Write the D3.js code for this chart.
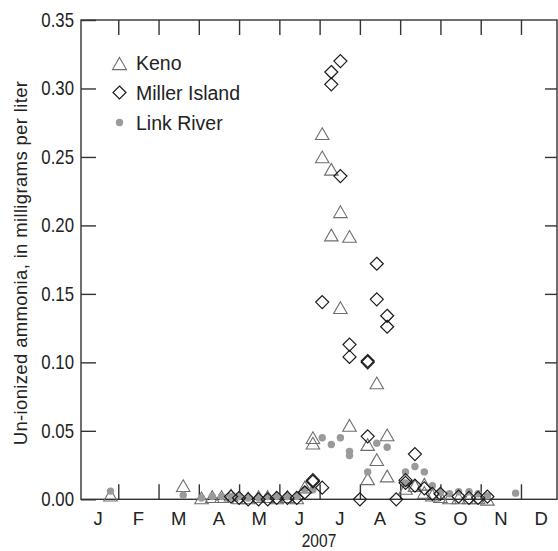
<!DOCTYPE html>
<html><head><meta charset="utf-8">
<script src="https://cdn.jsdelivr.net/npm/d3@7"></script>
<style>
body{margin:0;background:#fff;}
text{font-family:"Liberation Sans",Arial,sans-serif;fill:#222;}
</style></head>
<body><svg id="chart" width="558" height="551"></svg>
<script>
const monthLabels = ["J","F","M","A","M","J","J","A","S","O","N","D"];
const yTicks = [0,0.05,0.10,0.15,0.20,0.25,0.30,0.35];
const seriesNames = ["Keno","Miller Island","Link River"];

const kenoDates = ["2007-01-26","2007-03-20","2007-04-03","2007-04-11","2007-04-18","2007-04-25","2007-05-01","2007-05-08","2007-05-16","2007-05-23","2007-05-30","2007-06-07","2007-06-14","2007-06-20","2007-06-26","2007-06-26","2007-07-03","2007-07-03","2007-07-10","2007-07-10","2007-07-17","2007-07-17","2007-07-24","2007-07-24","2007-08-07","2007-08-07","2007-08-14","2007-08-14","2007-08-22","2007-08-22","2007-09-05","2007-09-12","2007-09-19","2007-09-19","2007-09-25","2007-10-01","2007-10-08","2007-10-15","2007-10-23","2007-10-30","2007-11-06"];
const kenoValues = [0.003,0.010,0.001,0.002,0.002,0.003,0.001,0.001,0.002,0.002,0.001,0.002,0.001,0.009,0.045,0.041,0.267,0.250,0.241,0.193,0.210,0.140,0.192,0.054,0.040,0.015,0.085,0.029,0.047,0.017,0.008,0.010,0.011,0.005,0.003,0.002,0.001,0.001,0.001,0.001,0.000];

const millerDates = ["2007-04-25","2007-05-01","2007-05-08","2007-05-16","2007-05-23","2007-05-30","2007-06-07","2007-06-14","2007-06-20","2007-06-26","2007-06-26","2007-07-03","2007-07-03","2007-07-10","2007-07-10","2007-07-17","2007-07-17","2007-07-24","2007-07-24","2007-08-01","2007-08-07","2007-08-07","2007-08-07","2007-08-14","2007-08-14","2007-08-22","2007-08-22","2007-08-29","2007-09-05","2007-09-05","2007-09-12","2007-09-12","2007-09-19","2007-09-25","2007-10-01","2007-10-15","2007-10-23","2007-10-30","2007-11-06"];
const millerValues = [0.002,0.001,0.000,0.000,0.000,0.001,0.001,0.001,0.005,0.014,0.013,0.144,0.0085,0.312,0.303,0.320,0.236,0.113,0.104,0.000,0.101,0.100,0.046,0.172,0.146,0.134,0.126,0.000,0.014,0.012,0.033,0.010,0.008,0.004,0.004,0.002,0.001,0.001,0.002];

const linkDates = ["2007-01-26","2007-03-20","2007-04-03","2007-04-11","2007-04-18","2007-04-25","2007-05-01","2007-05-08","2007-05-16","2007-05-23","2007-05-30","2007-06-07","2007-06-14","2007-06-20","2007-06-26","2007-07-03","2007-07-10","2007-07-17","2007-07-24","2007-07-24","2007-08-07","2007-08-14","2007-08-22","2007-09-05","2007-09-05","2007-09-12","2007-09-19","2007-09-25","2007-10-01","2007-10-08","2007-10-15","2007-10-23","2007-10-30","2007-11-06","2007-11-27"];
const linkValues = [0.006,0.003,0.001,0.002,0.002,0.002,0.002,0.001,0.001,0.002,0.002,0.002,0.002,0.007,0.007,0.045,0.040,0.045,0.035,0.032,0.020,0.041,0.038,0.020,0.012,0.024,0.020,0.010,0.005,0.004,0.0055,0.0055,0.004,0.0025,0.0045];

const parse = d3.timeParse("%Y-%m-%d");
const svg = d3.select("#chart");
const L = 81, R = 557, T = 20, B = 499.3;
const monthW = 40.27, x0 = 78;
const SX = 0.84; // horizontal condensing for numeric labels

const monthStarts = d3.range(13).map(i => new Date(2007, i, 1));
const x = d3.scaleTime().domain(monthStarts).range(monthStarts.map((d,i) => x0 + i*monthW));
const y = d3.scaleLinear().domain([0,0.35]).range([B,T]);

// frame
svg.append("rect").attr("x",L).attr("y",T).attr("width",R-L).attr("height",B-T)
  .attr("fill","none").attr("stroke","#333").attr("stroke-width",1.4);

// y axis left
const yAxisL = d3.axisLeft(y).tickValues(yTicks).tickFormat(d3.format(".2f")).tickSizeInner(-15).tickSizeOuter(0).tickPadding(7);
const gL = svg.append("g").attr("transform",`translate(${L},0)`).call(yAxisL);
gL.select(".domain").remove();
gL.selectAll("line").attr("stroke","#333").attr("stroke-width",1.4);
gL.selectAll("text").attr("font-size",20).attr("fill","#222")
  .attr("x", -7/SX).attr("transform",`scale(${SX},1)`)
  .style("font-family",'"Liberation Sans",Arial,sans-serif');

// y axis right ticks
const yAxisR = d3.axisRight(y).tickValues(yTicks.slice(1,-1)).tickSizeInner(-12).tickSizeOuter(0).tickFormat("");
const gR = svg.append("g").attr("transform",`translate(${R},0)`).call(yAxisR);
gR.select(".domain").remove();
gR.selectAll("line").attr("stroke","#333").attr("stroke-width",1.4);

// x axis ticks (bottom & top) at month boundaries
const inner = monthStarts.slice(1,12);
const xAxisB = d3.axisBottom(x).tickValues(inner).tickSizeInner(-15).tickSizeOuter(0).tickFormat("");
const gB = svg.append("g").attr("transform",`translate(0,${B})`).call(xAxisB);
gB.select(".domain").remove();
gB.selectAll("line").attr("stroke","#333").attr("stroke-width",1.4);
const xAxisT = d3.axisTop(x).tickValues(inner).tickSizeInner(-15).tickSizeOuter(0).tickFormat("");
const gT = svg.append("g").attr("transform",`translate(0,${T})`).call(xAxisT);
gT.select(".domain").remove();
gT.selectAll("line").attr("stroke","#333").attr("stroke-width",1.4);

// month labels at mid-month
svg.append("g").selectAll("text").data(monthLabels).join("text")
  .attr("x", (d,i) => (x(monthStarts[i]) + x(monthStarts[i+1]))/2)
  .attr("y", 524.5).attr("text-anchor","middle").attr("font-size",18.5)
  .text(d => d);

svg.append("text").attr("transform",`translate(${(L+R)/2},546.5) scale(${SX},1)`).attr("text-anchor","middle")
  .attr("font-size",18.5).text("2007");

svg.append("text").attr("transform","translate(27,263) rotate(-90)")
  .attr("text-anchor","middle").attr("font-size",18.5).attr("letter-spacing",0.35)
  .text("Un-ionized ammonia, in milligrams per liter");

// symbols
const triPath = (cx, cy, s) => {
  const h = s*0.87;
  return `M${cx},${cy-h/2}L${cx+s/2},${cy+h/2}L${cx-s/2},${cy+h/2}Z`;
};
const diaPath = (cx, cy, s) => `M${cx},${cy-s/2}L${cx+s/2},${cy}L${cx},${cy+s/2}L${cx-s/2},${cy}Z`;

const keno = kenoDates.map((d,i) => ({date: parse(d), v: kenoValues[i]}));
const miller = millerDates.map((d,i) => ({date: parse(d), v: millerValues[i]}));
const link = linkDates.map((d,i) => ({date: parse(d), v: linkValues[i]}));

svg.append("g").selectAll("path").data(keno).join("path")
  .attr("d", d => triPath(x(d.date), y(d.v), 13.5))
  .attr("fill","none").attr("stroke","#6e6e6e").attr("stroke-width",1.1);

svg.append("g").selectAll("circle").data(link).join("circle")
  .attr("cx", d => x(d.date)).attr("cy", d => y(d.v)).attr("r",3.7)
  .attr("fill","#9a9a9a");

svg.append("g").selectAll("path").data(miller).join("path")
  .attr("d", d => diaPath(x(d.date), y(d.v), 13))
  .attr("fill","none").attr("stroke","#1a1a1a").attr("stroke-width",1.2);

// legend
const lg = svg.append("g");
lg.append("path").attr("d", triPath(119.5, 63.5, 14)).attr("fill","none").attr("stroke","#6e6e6e").attr("stroke-width",1.1);
lg.append("path").attr("d", diaPath(119.5, 92.5, 13)).attr("fill","none").attr("stroke","#1a1a1a").attr("stroke-width",1.2);
lg.append("circle").attr("cx",119.5).attr("cy",122.5).attr("r",3.7).attr("fill","#9a9a9a");
lg.selectAll("text").data(seriesNames).join("text")
  .attr("x",136).attr("y",(d,i) => 70 + i*30).attr("font-size",19.5)
  .text(d => d);
</script></body></html>
